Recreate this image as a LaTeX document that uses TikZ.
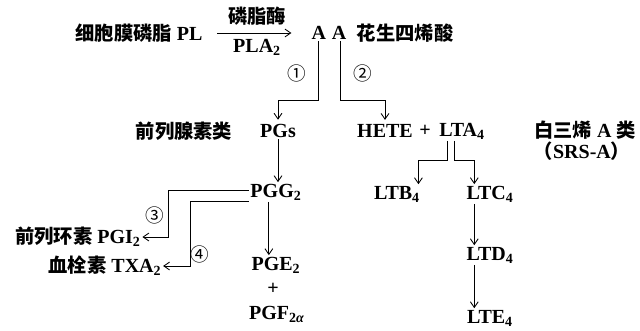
\documentclass[tikz,border=0pt]{standalone}
\usepackage{fontspec}
\setmainfont{Liberation Serif}
\newfontfamily\cjk{Noto Sans CJK SC}
\usetikzlibrary{arrows.meta,positioning,calc}
\newcommand{\zh}[1]{{\cjk\fontsize{13.5}{15}\selectfont #1}}
\tikzset{
  txt/.style={font=\fontsize{14}{16}\selectfont\bfseries, inner sep=1pt},
  cn/.style={font=\fontsize{13.5}{15}\selectfont\cjk\bfseries, inner sep=1pt},
  num/.style={font=\fontsize{13}{15}\selectfont\cjk, inner sep=0pt},
  arr/.style={-{Straight Barb[length=4pt,width=5.5pt]}, line width=0.6pt},
}

\begin{document}
\begin{tikzpicture}[x=0.7pt, y=-0.7pt]
\useasboundingbox (0,0) rectangle (640,330);

% top row
\node[txt] (pl) at (139,33) {\zh{细胞膜磷脂} PL};
\node[txt] (aa) at (329,33) {A\hspace{4pt}A};
\node[cn, right=5pt of aa] (hua) {花生四烯酸};

% second row
\node[cn] (pgsname) at (184,131) {前列腺素类};
\node[txt] (pgs) at (278,131) {PGs};
\node[txt] (hete) at (385,131) {HETE};
\node[txt] (plus) at (425,131) {+};
\node[txt] (lta) at (462,131) {LTA\textsubscript{4}};
\node[txt] (ltname) at (585,130) {\zh{白三烯} A \zh{类}};
\node[txt] (srs) at (582,151) {\zh{（}SRS-A\zh{）}};

% prostaglandin branch
\node[txt] (pgg) at (276,192) {PGG\textsubscript{2}};
\node[txt] (pgi) at (78,237) {\zh{前列环素} PGI\textsubscript{2}};
\node[txt] (txa) at (105,266) {\zh{血栓素} TXA\textsubscript{2}};
\node[txt] (pge) at (276,265) {PGE\textsubscript{2}};
\node[txt] (plus2) at (273,289) {+};
\node[txt] (pgf) at (277,314) {PGF\textsubscript{2\textit{α}}};

% leukotriene branch
\node[txt] (ltb) at (397,194) {LTB\textsubscript{4}};
\node[txt] (ltc) at (490,194) {LTC\textsubscript{4}};
\node[txt] (ltd) at (490,255) {LTD\textsubscript{4}};
\node[txt] (lte) at (490,318) {LTE\textsubscript{4}};

% route numbers
\node[num] (n1) at (297,73) {①};
\node[num] (n2) at (363,73) {②};
\node[num] (n3) at (155,215) {③};
\node[num] (n4) at (200,254) {④};

\coordinate (j1) at (318,100);
\coordinate (j2) at (340,100);
\coordinate (j3) at (447,160);
\coordinate (j4) at (454,160);
\coordinate (k3) at (168,237);
\coordinate (k4) at (190,266);

\draw[arr, shorten <=9pt, shorten >=13pt] (pl) -- node[cn, above=4pt] (enz) {磷脂酶} node[txt, below=3pt] (pla) {PLA\textsubscript{2}} (aa);
\draw[arr, shorten >=2pt] (aa.south -| j1) -- (j1) -| (pgs.north);
\draw[arr, shorten >=2pt] (aa.south -| j2) -- (j2) -| (hete.north);
\draw[arr] (pgs.south) -- (pgs.south |- pgg.north);
\draw[arr] ([yshift=1pt]pgg.west) -| (k3) -- (k3 -| pgi.east);
\draw[arr] (pgg.south west) -| (k4) -- (k4 -| txa.east);
\draw[arr] ([xshift=-5pt]pgg.south) -- ([xshift=-5pt]pgg.south |- pge.north);
\draw[arr] (lta.south -| j3) -- (j3) -| ([xshift=15pt]ltb.north);
\draw[arr] (lta.south -| j4) -- (j4) -| ([xshift=-11pt]ltc.north);
\draw[arr] ([xshift=-11pt]ltc.south) -- ([xshift=-11pt]ltc.south |- ltd.north);
\draw[arr] ([xshift=-11pt]ltd.south) -- ([xshift=-11pt]ltd.south |- lte.north);

\end{tikzpicture}
\end{document}
